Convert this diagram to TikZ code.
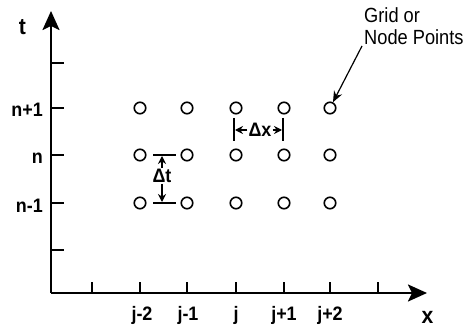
\documentclass[tikz,border=0pt]{standalone}
\usepackage{fontspec}
\setmainfont{Liberation Sans}
\newfontfamily\narrowbold[FakeStretch=0.92]{Liberation Sans Bold}
\newfontfamily\narrowreg[FakeStretch=0.89]{Liberation Sans}
\usetikzlibrary{arrows.meta}
\tikzset{
  axis/.style={line width=2.4pt,-{Stealth[length=19pt,width=17pt,inset=4pt]}},
  tick/.style={line width=1.3pt},
  gp/.style={circle,draw,line width=1.6pt,minimum size=11.5pt,inner sep=0pt},
  lbl/.style={font={\narrowbold\fontsize{19.5pt}{22pt}\selectfont},inner sep=0pt},
  axlbl/.style={font={\narrowbold\fontsize{23pt}{25pt}\selectfont},inner sep=0pt},
  dim/.style={line width=1.2pt},
  dimarr/.style={line width=1.2pt,-{Stealth[length=8pt,width=8pt]}}}
\begin{document}
\begin{tikzpicture}[x=1pt,y=-1pt]
\useasboundingbox (0,0) rectangle (469,334);
% axes
\coordinate (O) at (51,293);
\coordinate (T) at (51,11);
\coordinate (X) at (427,293);
\draw[axis] (O) -- (T);
\draw[axis] (O) -- (X);
% y ticks
\foreach \y in {63,108,155,203,250} \draw[tick] (51,\y) -- (64,\y);
% x ticks
\foreach \x in {92,140,187,236,284,330,378} \draw[tick] (\x,293) -- (\x,282);
% labels
\node[axlbl,anchor=base] (tl) at (22.5,35) {t};
\node[axlbl,anchor=base] (xl) at (427.5,323) {x};
\node[lbl,anchor=base east] (n1) at (43,117) {n+1};
\node[lbl,anchor=base east] (n0) at (43,164) {n};
\node[lbl,anchor=base east] (nm) at (43,212) {n-1};
\node[lbl,anchor=base] (j1) at (142,320) {j-2};
\node[lbl,anchor=base] (j2) at (188,320) {j-1};
\node[lbl,anchor=base] (j3) at (236,320) {j};
\node[lbl,anchor=base] (j4) at (284,320) {j+1};
\node[lbl,anchor=base] (j5) at (330,320) {j+2};
% grid points
\foreach \x/\i in {140/1,187/2,236/3,284/4,330/5}
  \foreach \y/\k in {108/a,155/b,203/c}
    \node[gp] (p\i\k) at (\x,\y) {};
% Delta x
\draw[dim] (234,118) -- (234,141);
\draw[dim] (283,118) -- (283,141);
\node[lbl,inner sep=1pt] (dx) at (260,130) {Δx};
\draw[dimarr] (dx.west) -- (235,130);
\draw[dimarr] (dx.east) -- (282,130);
% Delta t
\draw[dim] (153,155) -- (176,155);
\draw[dim] (153,203) -- (176,203);
\node[lbl,inner sep=1pt] (dt) at (162,176) {Δt};
\draw[dimarr] (dt.north) -- (162,156);
\draw[dimarr] (dt.south) -- (162,202);
% callout
\node[font={\narrowreg\fontsize{20.5pt}{22pt}\selectfont},align=left,anchor=base west,inner sep=0pt] (cap) at (364,45) {Grid or\\Node Points};
\coordinate (ca) at (362,46);
\draw[line width=1.2pt,-{Stealth[length=11pt,width=9pt]}] (ca) -- (p5a);
\end{tikzpicture}
\end{document}
